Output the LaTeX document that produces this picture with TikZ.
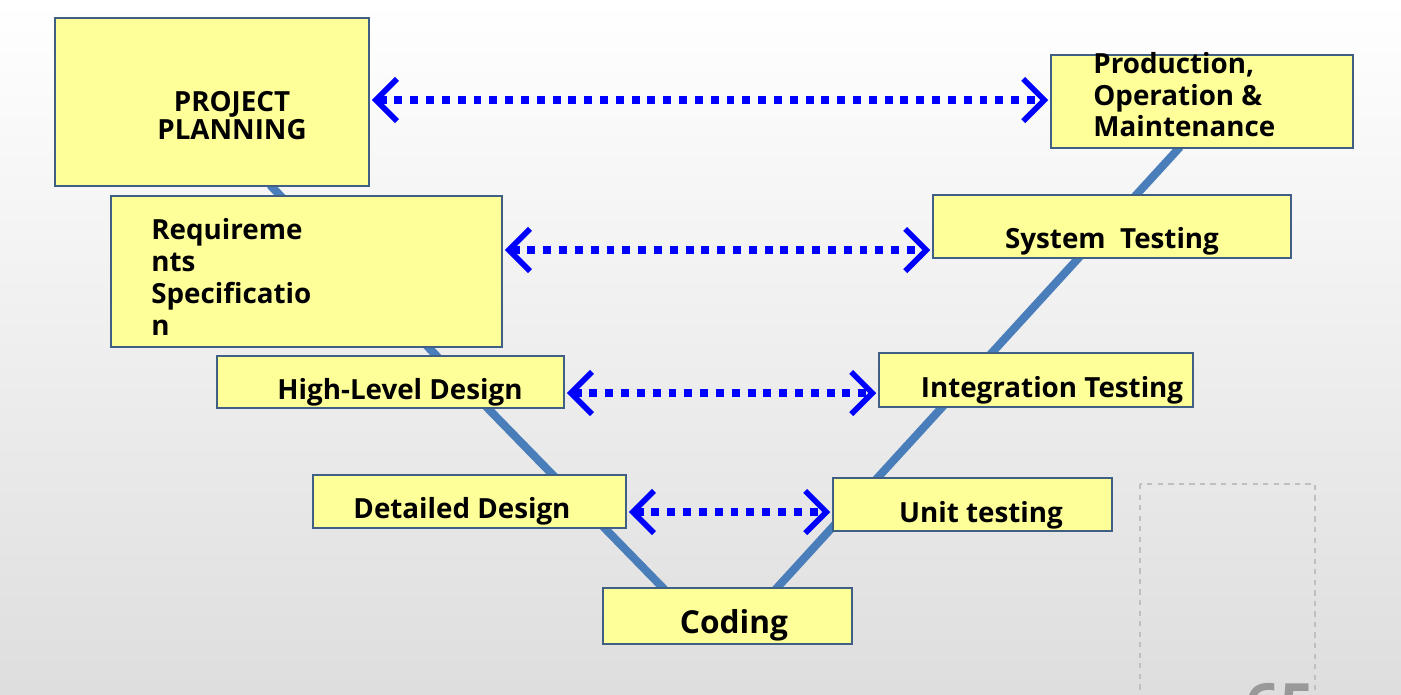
\documentclass[tikz,border=0pt]{standalone}
\usepackage{fontspec}
\setmainfont{Open Sans}
\usetikzlibrary{arrows.meta}
\begin{document}
\begin{tikzpicture}[x=0.02cm,y=-0.02cm,
 box/.style={draw=boxb,line width=1.2pt,fill=boxy,inner sep=0pt},
 lab/.style={font=\bfseries\fontsize{15.8}{16}\selectfont,text=black},
 dd/.style={draw=blue,line width=4pt,dash pattern=on 4.5pt off 4.5pt,
   {Straight Barb[length=12pt,width=24pt,line width=3.2pt]}-{Straight Barb[length=12pt,width=24pt,line width=3.2pt]},shorten <=1pt,shorten >=1pt},
 vline/.style={draw=vblue,line width=4.6pt}]
\definecolor{boxy}{HTML}{FFFF99}
\definecolor{boxb}{HTML}{3F5F85}
\definecolor{vblue}{HTML}{4A7EBB}
\useasboundingbox (0,0) rectangle (1401,694);
\clip (0,0) rectangle (1401,694);
\shade[top color=white,bottom color=black!13] (0,0) rectangle (1401,694);
\draw[black!25,dashed,line width=0.6pt] (1140,484) rectangle (1315,700);
\node[text=black!40,font=\bfseries\fontsize{34}{34}\selectfont] at (1280,705) {65};
\coordinate (v1) at (270,185); \coordinate (v2) at (665,590);
\coordinate (v3) at (775,590); \coordinate (v4) at (1180,147);
\draw[vline] (v1) -- (v2); \draw[vline] (v3) -- (v4);
\node[box,minimum width=314*0.02cm,minimum height=168*0.02cm,anchor=north west] (pp) at (54,17) {};
\node[lab,align=center] at (232,116) {PROJECT\\PLANNING};
\node[box,minimum width=302*0.02cm,minimum height=93*0.02cm,anchor=north west] (po) at (1050,54) {};
\node[lab,align=left,anchor=north west,inner sep=0pt,font=\bfseries\fontsize{15.8}{18}\selectfont] at (1093,52) {Production,\\Operation \&\\Maintenance};
\node[box,minimum width=391*0.02cm,minimum height=151*0.02cm,anchor=north west] (rs) at (110,195) {};
\node[lab,align=left,anchor=north west,inner sep=0pt,font=\bfseries\fontsize{15.8}{18.2}\selectfont] at (151,218) {Requireme\\nts\\Specificatio\\n};
\node[box,minimum width=358*0.02cm,minimum height=63*0.02cm,anchor=north west] (st) at (932,194) {};
\node[lab] at (1112,241) {System\ \ Testing};
\node[box,minimum width=347*0.02cm,minimum height=52*0.02cm,anchor=north west] (hl) at (216,355) {};
\node[lab] at (400,392) {High-Level Design};
\node[box,minimum width=314*0.02cm,minimum height=54*0.02cm,anchor=north west] (it) at (878,352) {};
\node[lab] at (1052,390) {Integration Testing};
\node[box,minimum width=313*0.02cm,minimum height=53*0.02cm,anchor=north west] (dd) at (312,474) {};
\node[lab] at (462,511) {Detailed Design};
\node[box,minimum width=279*0.02cm,minimum height=53*0.02cm,anchor=north west] (ut) at (832,477) {};
\node[lab] at (981,515) {Unit testing};
\node[box,minimum width=249*0.02cm,minimum height=56*0.02cm,anchor=north west] (cd) at (602,587) {};
\node[lab,font=\bfseries\fontsize{18}{18}\selectfont] at (734,625) {Coding};
\draw[dd] (pp.east |- 0,100) -- (po.west |- 0,100);
\draw[dd] (rs.east |- 0,250) -- (st.west |- 0,250);
\draw[dd] (hl.east |- 0,393) -- (it.west |- 0,393);
\draw[dd] (dd.east |- 0,512) -- (ut.west |- 0,512);
\end{tikzpicture}
\end{document}
